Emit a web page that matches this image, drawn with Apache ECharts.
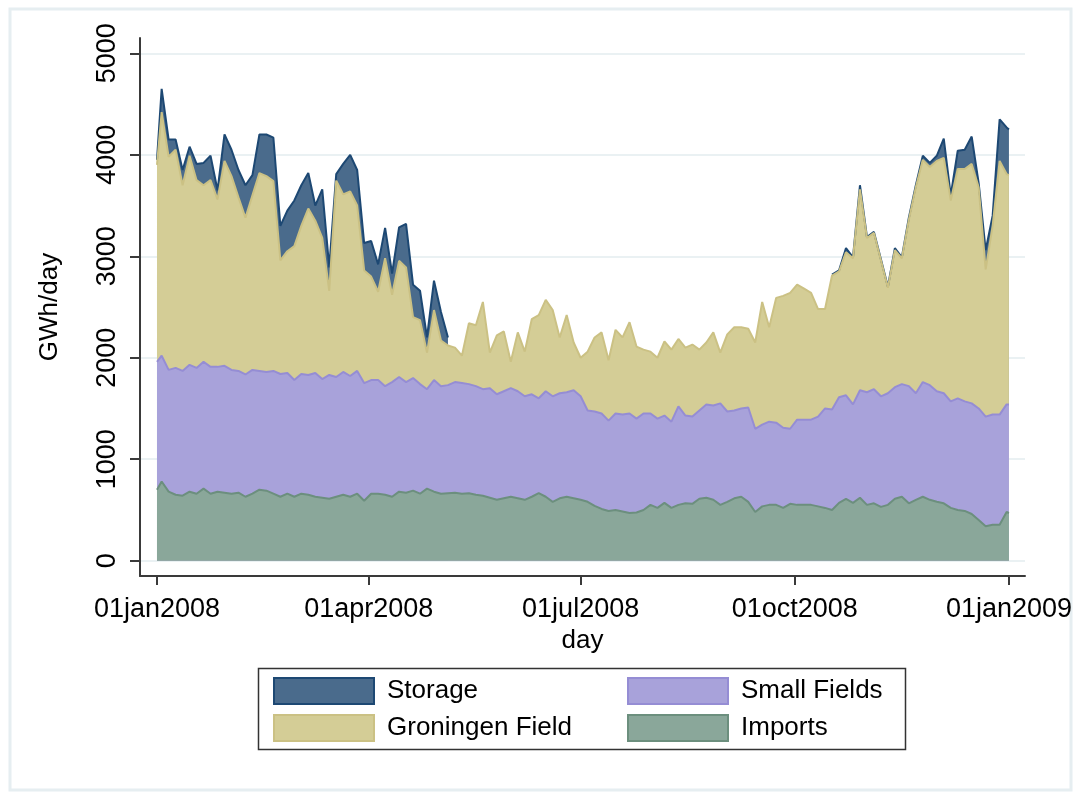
<!DOCTYPE html>
<html>
<head>
<meta charset="utf-8">
<script src="https://cdn.jsdelivr.net/npm/echarts@6/dist/echarts.min.js"></script>
<style>
  html, body { margin: 0; padding: 0; background: #fff; }
  #main { width: 1082px; height: 800px; }
</style>
</head>
<body>
<div id="main"></div>
<script>
// day index from 01jan2008
var days = [
  0, 2, 5, 8, 11, 14, 17, 20, 23, 26,
  29, 32, 35, 38, 41, 44, 47, 50, 53, 56,
  59, 62, 65, 68, 71, 74, 77, 80, 83, 86,
  89, 92, 95, 98, 101, 104, 107, 110, 113, 116,
  119, 122, 125, 128, 131, 134, 137, 140, 143, 146,
  149, 152, 155, 158, 161, 164, 167, 170, 173, 176,
  179, 182, 185, 188, 191, 194, 197, 200, 203, 206,
  209, 212, 215, 218, 221, 224, 227, 230, 233, 236,
  239, 242, 245, 248, 251, 254, 257, 260, 263, 266,
  269, 272, 275, 278, 281, 284, 287, 290, 293, 296,
  299, 302, 305, 308, 311, 314, 317, 320, 323, 326,
  329, 332, 335, 338, 341, 344, 347, 350, 353, 356,
  359, 362, 365, 366
]

var imports = [
  700, 780, 680, 650, 640, 680, 660, 710, 660, 680,
  670, 660, 670, 630, 660, 700, 690, 660, 630, 660,
  630, 660, 650, 630, 620, 610, 630, 650, 630, 660,
  590, 660, 660, 650, 630, 680, 670, 690, 660, 710,
  680, 660, 665, 670, 660, 665, 650, 640, 620, 600,
  615, 630, 615, 600, 630, 665, 630, 580, 615, 630,
  615, 600, 580, 540, 510, 490, 500, 485, 470, 475,
  500, 550, 520, 570, 520, 550, 565, 560, 610, 620,
  600, 550, 580, 615, 630, 580, 480, 535, 550, 550,
  520, 560, 550, 550, 550, 535, 520, 500, 570, 610,
  570, 620, 550, 565, 530, 550, 610, 630, 565, 600,
  630, 600, 580, 565, 520, 500, 490, 460, 400, 340,
  355, 355, 480, 470
]

var smallFields = [
  1260, 1240, 1200, 1250, 1230, 1250, 1240, 1250, 1250, 1230,
  1250, 1220, 1200, 1205, 1220, 1170, 1170, 1210, 1210, 1190,
  1150, 1180, 1180, 1220, 1170, 1220, 1180, 1210, 1190, 1210,
  1160, 1120, 1120, 1070, 1130, 1130, 1090, 1110, 1080, 980,
  1100, 1060, 1065, 1090, 1090, 1075, 1070, 1050, 1080, 1040,
  1055, 1070, 1055, 1020, 1010, 935, 1040, 1040, 1035, 1030,
  1065, 1020, 900, 930, 940, 890, 950, 955, 980, 925,
  950, 900, 880, 860, 850, 970, 865, 860, 870, 920,
  930, 1000, 890, 865, 870, 930, 820, 805, 820, 810,
  790, 740, 840, 840, 840, 885, 980, 990, 1040, 1020,
  970, 1060, 1110, 1125, 1090, 1100, 1100, 1110, 1155, 1050,
  1130, 1130, 1090, 1085, 1050, 1100, 1080, 1090, 1100, 1080,
  1085, 1085, 1060, 1070
]

var groningen = [
  1940, 2400, 2100, 2150, 1830, 2060, 1850, 1740, 1840, 1650,
  2020, 1910, 1710, 1545, 1720, 1950, 1930, 1870, 1120, 1200,
  1320, 1460, 1640, 1500, 1390, 830, 1935, 1750, 1820, 1630,
  1110, 1020, 870, 1260, 860, 1145, 1130, 600, 630, 360,
  690, 450, 390, 340, 270, 600, 600, 860, 350, 580,
  590, 260, 580, 440, 740, 820, 900, 850, 550, 760,
  470, 380, 580, 730, 800, 595, 825, 760, 900, 710,
  630, 610, 600, 730, 710, 665, 670, 710, 600, 610,
  720, 500, 760, 820, 800, 775, 850, 1210, 930, 1230,
  1300, 1340, 1330, 1290, 1250, 1060, 980, 1320, 1240, 1410,
  1440, 1980, 1520, 1540, 1340, 1040, 1350, 1240, 1640, 2030,
  2190, 2150, 2270, 2320, 1980, 2260, 2290, 2360, 2180, 1450,
  1860, 2500, 2270, 2260
]

// null = no storage withdrawal that day
var storage = [
  50, 230, 170, 100, 150, 90, 160, 220, 240, 90,
  260, 260, 270, 320, 200, 380, 410, 430, 340, 400,
  450, 400, 350, 150, 480, 230, 65, 300, 360, 350,
  270, 350, 270, 300, 210, 330, 430, 320, 290, 150,
  290, 280, 80, null, null, null, null, null, null, null,
  null, null, null, null, null, null, null, null, null, null,
  null, null, null, null, null, null, null, null, null, null,
  null, null, null, null, null, null, null, null, null, null,
  null, null, null, null, null, null, null, null, null, null,
  null, null, null, null, null, null, null, 10, 10, 40,
  10, 40, 10, 10, 10, 10, 20, 10, 20, 20,
  40, 40, 50, 190, 50, 180, 190, 270, 40, 190,
  100, 410, 460, 450
]

var tickDays = [0, 91, 182, 274, 366]
var tickLabels = ['01jan2008', '01apr2008', '01jul2008', '01oct2008', '01jan2009']
var yTicks = [0, 1000, 2000, 3000, 4000, 5000]

var FONT = '"Liberation Sans", Arial, sans-serif'

// stack by hand: each layer is drawn from 0 up to its running total,
// top layer first so the lower ones paint over it
var layers = [imports, smallFields, groningen, storage]
var tops = []
var run = days.map(() => 0)
layers.forEach(vals => {
    run = run.map((r, i) => r + (vals[i] == null ? 0 : vals[i]))
    tops.push(days.map((d, i) => [d, vals[i] == null ? '-' : run[i]]))
})

var colors = {
    storage: ['#4a6b8c', '#1d4873'],
    groningen: ['#d4cd96', '#cbc184'],
    small: ['#a8a2da', '#958dd4'],
    imports: ['#8aa79a', '#6c8f7e']
}

function area(name, data, c) {
    return {
        name: name,
        type: 'line',
        data: data,
        showSymbol: false,
        symbol: 'none',
        connectNulls: false,
        lineStyle: { color: c[1], width: 2 },
        itemStyle: { color: c[0] },
        areaStyle: { color: c[0], opacity: 1, origin: 0 },
        emphasis: { disabled: true }
    }
}

function legendItem(name, c) {
    return { name: name, icon: 'rect', itemStyle: { color: c[0], borderColor: c[1], borderWidth: 2 } }
}

var legendBase = {
    orient: 'vertical',
    itemWidth: 100,
    itemHeight: 26,
    itemGap: 9,
    selectedMode: false,
    textStyle: { fontFamily: FONT, fontSize: 26, color: '#000', padding: [0, 0, 0, 8] }
}

var chart = echarts.init(document.getElementById('main'), null, { renderer: 'canvas' })

var option = {
    animation: false,
    backgroundColor: '#fff',
    graphic: [
        { type: 'rect', z: -10, shape: { x: 10, y: 9, width: 1061, height: 781 },
          style: { fill: 'none', stroke: '#e6eef1', lineWidth: 3 } },
        { type: 'rect', z: -5, shape: { x: 258.5, y: 668.5, width: 647, height: 81 },
          style: { fill: '#fff', stroke: '#333', lineWidth: 1.5 } }
    ],
    grid: { left: 140, right: 57, top: 38, bottom: 224 },
    legend: [
        Object.assign({ left: 268, top: 672, data: [legendItem('Storage', colors.storage), legendItem('Groningen Field', colors.groningen)] }, legendBase),
        Object.assign({ left: 622, top: 672, data: [legendItem('Small Fields', colors.small), legendItem('Imports', colors.imports)] }, legendBase)
    ],
    xAxis: {
        type: 'value',
        min: -7.3,
        max: 372.9,
        name: 'day',
        nameLocation: 'middle',
        nameGap: 44,
        nameTextStyle: { fontFamily: FONT, fontSize: 26, color: '#000' },
        axisLine: { onZero: false, lineStyle: { color: '#3a3a3a', width: 2 } },
        axisTick: { customValues: tickDays, length: 9, lineStyle: { color: '#3a3a3a', width: 2 } },
        axisLabel: {
            customValues: tickDays,
            margin: 20,
            fontFamily: FONT, fontSize: 27, color: '#000',
            formatter: v => tickLabels[tickDays.indexOf(v)]
        },
        splitLine: { show: false }
    },
    yAxis: {
        type: 'value',
        min: -151,
        max: 5151,
        name: 'GWh/day',
        nameLocation: 'middle',
        nameRotate: 90,
        nameGap: 77,
        nameTextStyle: { fontFamily: FONT, fontSize: 26, color: '#000' },
        axisLine: { show: true, onZero: false, lineStyle: { color: '#3a3a3a', width: 2 } },
        axisTick: { show: true, customValues: yTicks, length: 10, lineStyle: { color: '#3a3a3a', width: 2 } },
        axisLabel: {
            customValues: yTicks,
            rotate: 90,
            margin: 19,
            fontFamily: FONT, fontSize: 27, color: '#000',
            formatter: v => String(v)
        },
        splitLine: { show: true, lineStyle: { color: '#eaf1f3', width: 2 } }
    },
    series: [
        area('Storage', tops[3], colors.storage),
        area('Groningen Field', tops[2], colors.groningen),
        area('Small Fields', tops[1], colors.small),
        area('Imports', tops[0], colors.imports)
    ]
}

chart.setOption(option)
</script>
</body>
</html>
